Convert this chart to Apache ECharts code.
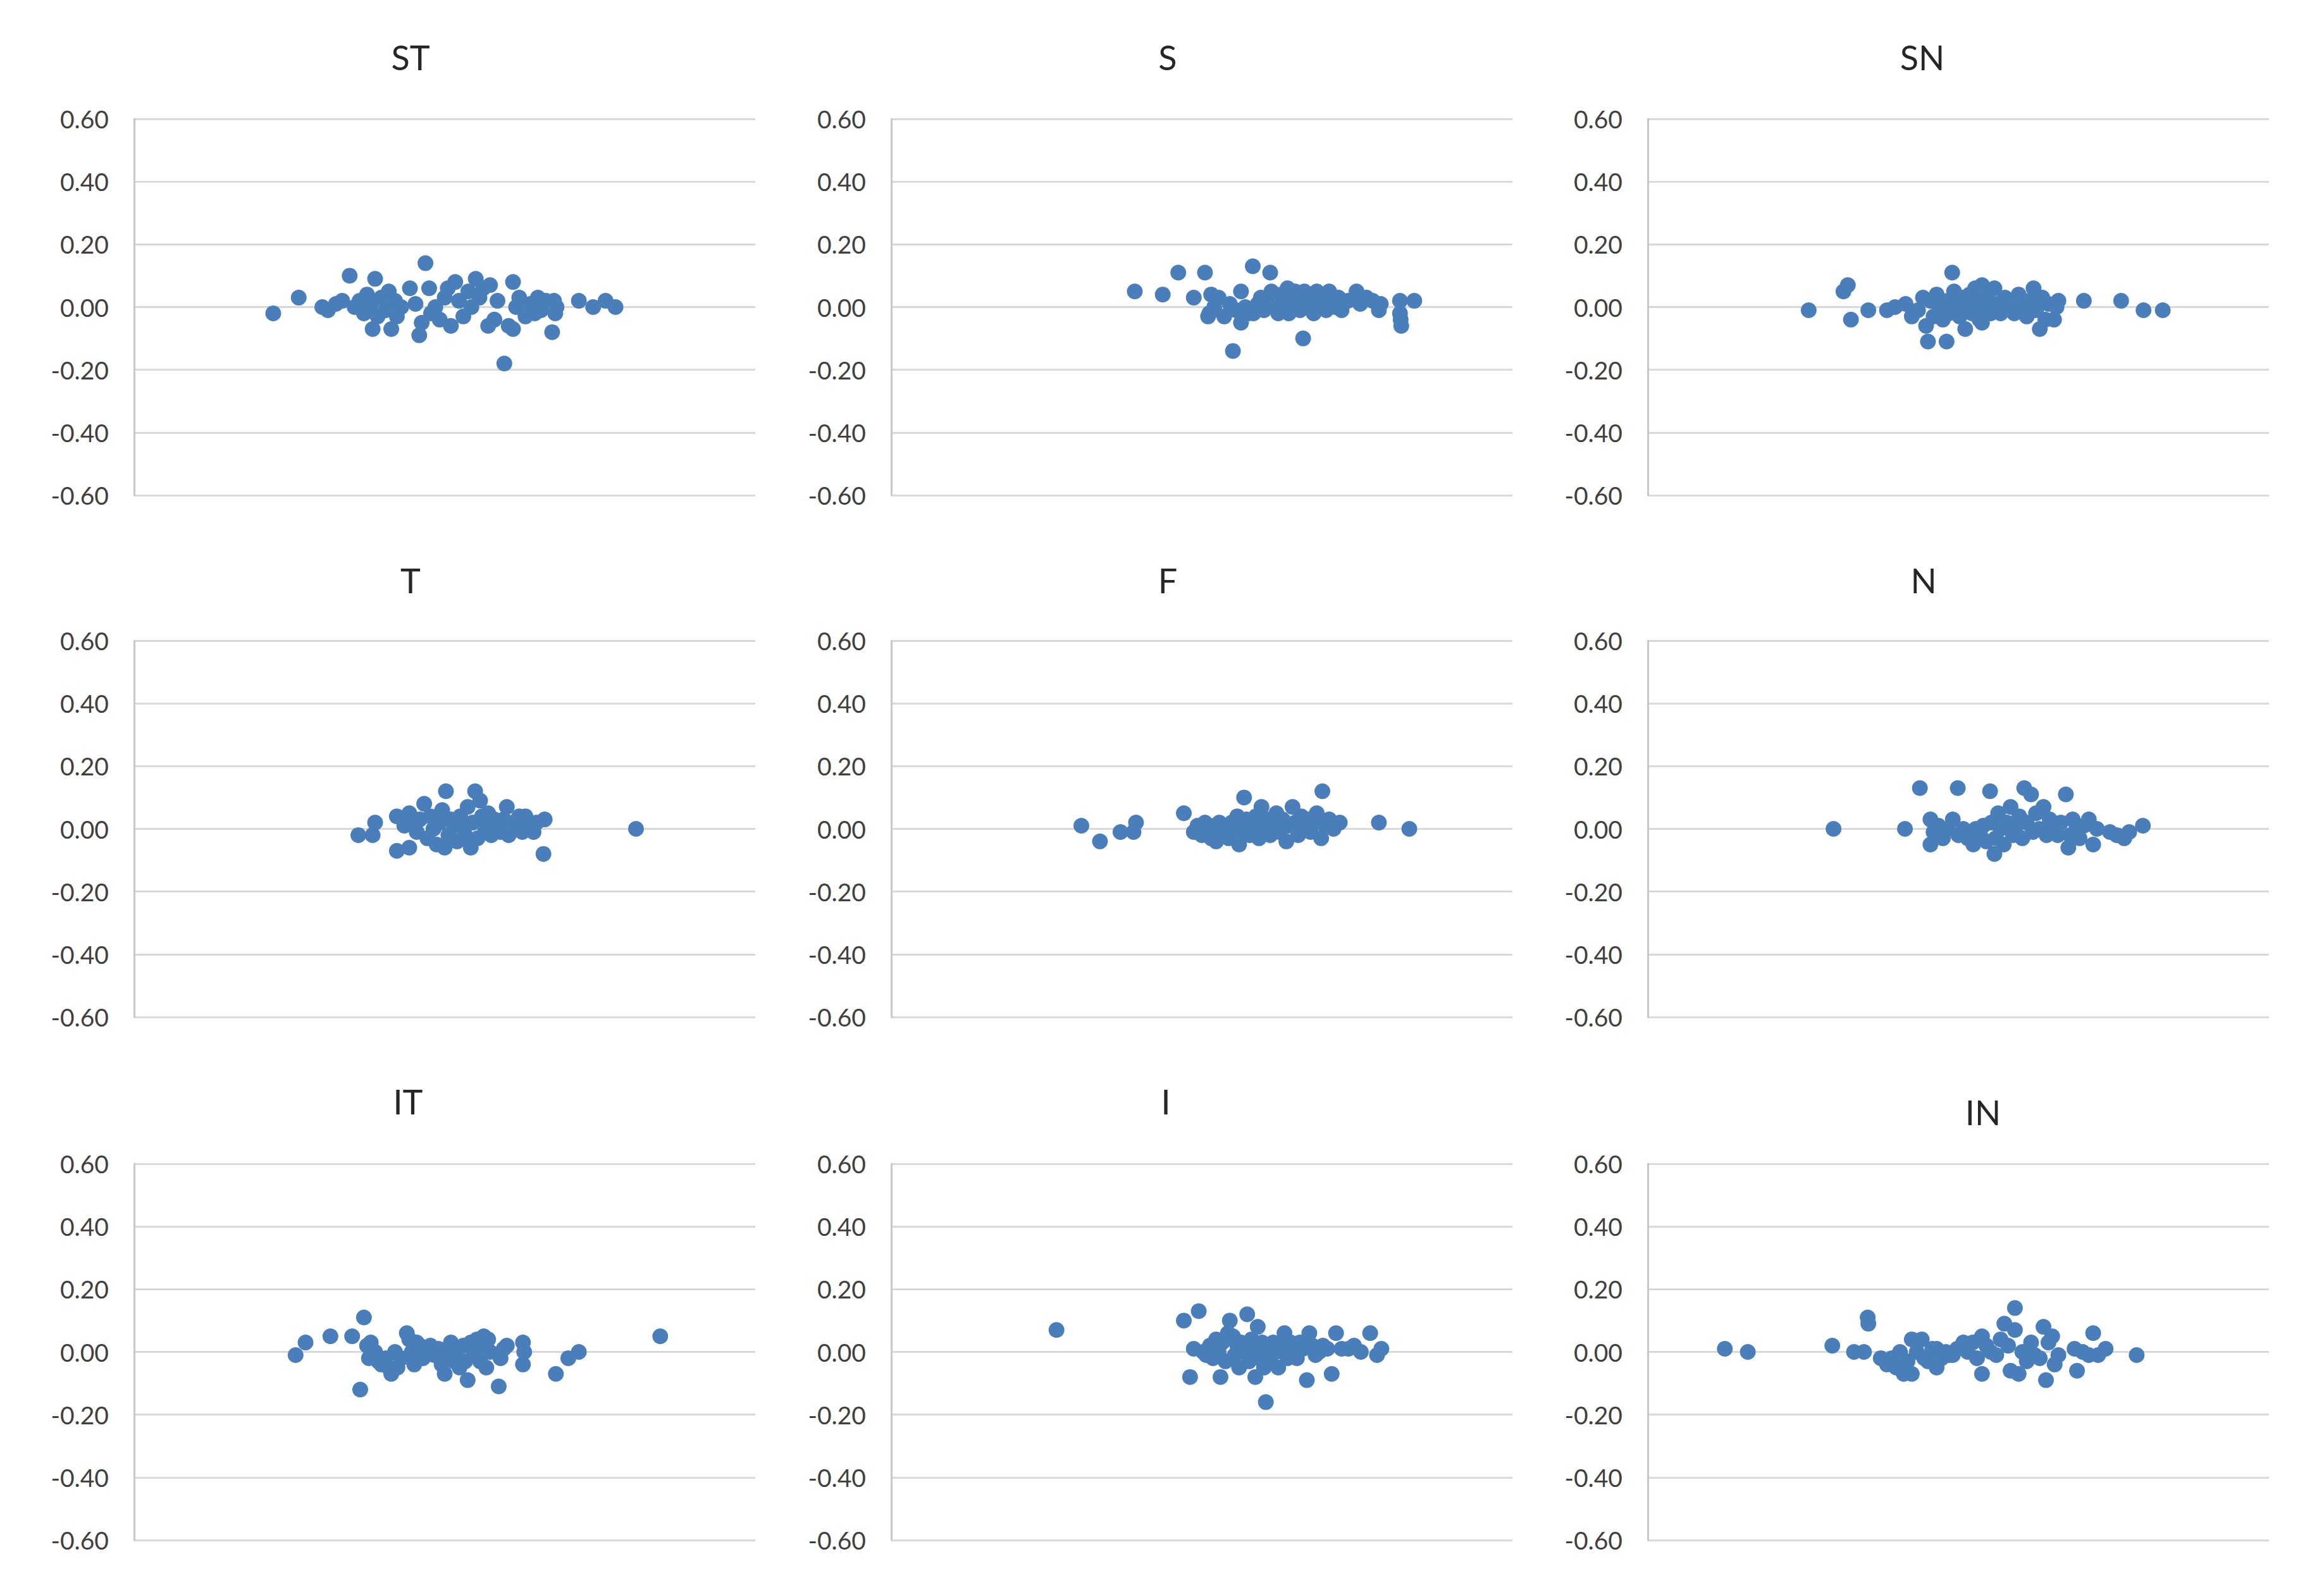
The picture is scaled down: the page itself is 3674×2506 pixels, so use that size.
<!DOCTYPE html>
<html><head><meta charset="utf-8">
<script src="https://cdn.jsdelivr.net/npm/echarts@6/dist/echarts.min.js"></script>
<style>html,body{margin:0;padding:0;background:#fff}#c{width:3674px;height:2506px}</style>
</head><body><div id="c"></div><script>
// Panel titles
const panelTitles = ['ST','S','SN','T','F','N','IT','I','IN'];
// Y axis ticks
const yMin = -0.6, yMax = 0.6, yStep = 0.2;

// Point data [x (relative position 0-100), y]
const ST = [[22.4,-0.02],[26.5,0.03],[30.3,0.00],[31.2,-0.01],[32.5,0.01],[33.5,0.02],[34.7,0.10],[35.5,0.00],[36.3,0.02],[37.0,-0.02],[37.5,0.04],[38.2,0.01],[38.8,0.09],[38.4,-0.07],[39.2,-0.03],[39.8,0.03],[40.5,-0.01],[41.0,0.05],[41.4,-0.07],[42.0,0.02],[42.3,-0.03],[43.0,0.00],[44.4,0.06],[45.3,0.01],[45.9,-0.09],[46.3,-0.05],[46.9,0.14],[47.5,0.06],[47.8,-0.02],[48.5,0.00],[49.2,-0.04],[50.0,0.03],[50.5,0.06],[51.0,-0.06],[51.7,0.08],[52.3,0.02],[53.0,-0.03],[53.8,0.05],[54.3,0.00],[55.0,0.09],[55.6,0.03],[56.2,0.06],[57.0,-0.06],[57.3,0.07],[58.0,-0.04],[58.5,0.02],[59.6,-0.18],[60.3,-0.06],[61.0,0.08],[61.0,-0.07],[61.5,0.00],[62.0,0.03],[63.0,-0.03],[63.8,0.01],[64.5,-0.02],[65.0,0.03],[65.5,-0.01],[66.3,0.02],[67.3,-0.08],[67.6,0.02],[67.8,-0.02],[68.0,0.00],[71.6,0.02],[73.9,0.00],[75.9,0.02],[77.5,0.00]];
const S = [[39.2,0.05],[43.7,0.04],[46.2,0.11],[50.5,0.11],[48.7,0.03],[51.0,-0.03],[51.2,-0.02],[51.5,0.04],[52.0,0.00],[52.7,0.03],[53.6,-0.03],[54.5,0.01],[55.0,-0.14],[55.5,-0.01],[56.3,0.05],[56.3,-0.05],[57.0,0.00],[57.5,-0.02],[58.2,0.13],[58.3,-0.02],[59.0,0.01],[59.5,0.03],[60.0,-0.01],[60.5,0.02],[61.0,0.11],[61.2,0.05],[61.8,0.00],[62.3,-0.02],[62.8,0.04],[63.2,0.02],[63.8,0.06],[64.0,-0.02],[64.5,0.01],[65.0,0.05],[65.3,0.03],[65.8,-0.01],[66.3,-0.10],[66.5,0.05],[67.0,0.00],[67.5,0.03],[68.0,-0.02],[68.5,0.05],[69.0,0.02],[69.5,0.04],[70.0,-0.01],[70.5,0.05],[71.0,0.02],[71.5,0.00],[72.0,0.03],[72.5,-0.01],[73.5,0.02],[74.9,0.05],[75.5,0.01],[76.5,0.03],[77.5,0.02],[78.5,-0.01],[78.8,0.01],[81.9,0.02],[81.9,-0.02],[82.0,-0.04],[82.1,-0.06],[84.2,0.02]];
const SN = [[25.9,-0.01],[31.5,0.05],[32.2,0.07],[32.7,-0.04],[35.5,-0.01],[38.5,-0.01],[39.8,0.00],[41.5,0.01],[42.5,-0.03],[43.5,-0.01],[44.3,0.03],[44.8,-0.06],[45.1,-0.11],[45.5,0.02],[46.0,-0.03],[46.5,0.04],[47.0,0.00],[47.5,-0.04],[48.1,-0.11],[48.3,0.02],[48.5,-0.02],[49.0,0.11],[49.3,0.05],[49.8,0.01],[50.2,-0.03],[50.6,0.03],[51.1,-0.07],[51.5,0.00],[51.8,0.04],[52.2,-0.02],[52.7,0.06],[53.0,0.02],[53.4,-0.04],[53.8,0.07],[53.8,-0.05],[54.3,0.00],[54.7,0.03],[55.2,-0.02],[55.8,0.06],[56.2,0.01],[56.8,-0.02],[57.5,0.03],[58.3,0.00],[59.0,-0.02],[59.7,0.04],[60.5,0.01],[61.0,-0.03],[61.5,0.02],[62.1,0.06],[62.5,-0.01],[63.1,-0.07],[63.5,0.03],[64.0,-0.04],[64.5,0.01],[65.4,-0.04],[65.8,0.00],[66.1,0.02],[70.2,0.02],[76.2,0.02],[79.8,-0.01],[82.9,-0.01]];
const T = [[36.1,-0.02],[38.4,-0.02],[38.8,0.02],[42.3,0.04],[42.3,-0.07],[43.5,0.01],[44.3,-0.06],[44.3,0.05],[45.0,0.02],[45.5,-0.01],[46.0,0.03],[46.7,0.08],[47.2,-0.03],[47.7,0.04],[48.2,0.00],[48.7,-0.05],[49.2,0.02],[49.6,0.06],[50.0,-0.06],[50.2,0.12],[50.6,-0.02],[51.0,0.03],[51.5,0.01],[52.0,-0.04],[52.5,0.04],[53.0,0.00],[53.3,-0.02],[53.7,0.07],[54.2,-0.06],[54.5,0.02],[54.9,0.12],[55.3,-0.03],[55.7,0.09],[56.0,0.04],[56.5,0.00],[57.0,0.05],[57.5,-0.02],[58.0,0.03],[58.5,0.01],[59.0,-0.01],[59.5,0.03],[60.0,0.07],[60.3,-0.02],[61.0,0.02],[61.5,0.00],[62.0,0.04],[62.5,-0.01],[63.0,0.04],[63.5,0.01],[64.3,-0.01],[64.8,0.02],[66.1,0.03],[65.9,-0.08],[80.8,0.00]];
const F = [[30.6,0.01],[33.6,-0.04],[36.9,-0.01],[39.0,-0.01],[39.4,0.02],[47.1,0.05],[48.7,-0.01],[49.3,0.01],[50.0,-0.02],[50.5,0.02],[51.0,0.00],[51.5,-0.03],[52.0,0.01],[52.3,-0.04],[52.8,0.02],[53.3,-0.01],[53.8,0.01],[54.3,-0.03],[54.8,0.02],[55.3,0.00],[55.7,0.04],[56.0,-0.05],[56.5,-0.01],[56.8,0.10],[57.2,0.03],[57.7,-0.02],[58.2,0.01],[58.7,0.04],[59.2,-0.03],[59.6,0.07],[60.0,0.00],[60.5,0.03],[61.0,-0.02],[61.5,0.02],[62.0,0.05],[62.5,-0.01],[63.0,0.03],[63.6,-0.04],[64.0,0.01],[64.6,0.07],[65.0,0.02],[65.5,-0.02],[66.0,0.04],[66.5,0.00],[67.0,0.03],[67.5,-0.01],[68.0,0.02],[68.5,0.05],[69.2,-0.03],[69.4,0.12],[69.8,0.01],[70.5,0.03],[71.2,0.00],[72.2,0.02],[78.5,0.02],[83.4,0.00]];
const N = [[29.9,0.00],[41.4,0.00],[43.8,0.13],[45.5,0.03],[45.5,-0.05],[46.0,-0.01],[46.8,0.01],[47.5,-0.03],[48.3,0.00],[49.1,0.03],[49.9,0.13],[50.0,-0.02],[50.8,0.00],[51.5,-0.03],[52.4,-0.05],[52.8,0.00],[53.5,-0.02],[54.0,0.01],[54.5,-0.04],[55.1,0.12],[55.3,0.02],[55.8,-0.08],[56.0,-0.03],[56.4,0.05],[56.8,0.00],[57.3,-0.05],[57.8,0.02],[58.4,0.07],[58.8,-0.02],[59.3,0.01],[59.8,0.04],[60.3,-0.03],[60.6,0.13],[61.0,0.02],[61.7,0.11],[62.0,-0.01],[62.5,0.05],[63.0,0.00],[63.7,0.07],[64.2,-0.02],[64.7,0.03],[65.3,0.01],[66.0,-0.02],[66.5,0.02],[67.3,0.11],[67.7,-0.06],[68.0,-0.02],[68.4,0.03],[69.0,0.00],[69.5,-0.03],[70.2,0.01],[71.0,0.03],[71.7,-0.05],[72.3,0.00],[74.4,-0.01],[75.5,-0.02],[76.7,-0.03],[77.5,-0.01],[79.7,0.01]];
const IT = [[26.0,-0.01],[27.6,0.03],[31.6,0.05],[35.1,0.05],[36.4,-0.12],[37.0,0.11],[37.5,0.02],[37.8,-0.02],[38.1,0.03],[38.8,0.00],[39.3,-0.03],[39.8,-0.04],[40.5,-0.02],[41.0,-0.05],[41.4,-0.07],[42.0,0.00],[42.4,-0.05],[43.0,-0.02],[43.9,0.06],[44.3,0.04],[44.7,0.00],[45.1,-0.04],[45.5,0.03],[46.0,0.02],[46.5,-0.02],[47.0,0.01],[47.7,0.02],[48.3,-0.01],[49.0,0.01],[49.5,-0.04],[50.0,-0.07],[50.5,0.00],[51.0,0.03],[51.5,-0.03],[52.0,0.01],[52.4,-0.05],[53.0,0.02],[53.3,-0.03],[53.7,-0.09],[54.2,0.03],[54.7,-0.01],[55.2,0.04],[55.7,-0.03],[56.0,0.02],[56.3,0.05],[56.7,-0.05],[57.0,0.04],[57.3,0.00],[58.7,-0.11],[59.0,-0.02],[59.5,0.01],[60.0,0.02],[62.6,0.03],[62.6,-0.04],[62.8,0.00],[67.9,-0.07],[69.9,-0.02],[71.6,0.00],[84.7,0.05]];
const I = [[26.6,0.07],[47.1,0.10],[48.1,-0.08],[48.7,0.01],[49.5,0.13],[50.2,0.00],[50.7,-0.01],[51.3,0.02],[51.8,-0.02],[52.3,0.04],[52.7,0.00],[53.0,-0.08],[53.3,0.03],[53.8,-0.03],[54.2,0.06],[54.5,0.10],[55.0,0.05],[55.3,-0.01],[55.7,0.02],[56.0,-0.05],[56.3,0.03],[56.8,0.00],[57.3,0.12],[57.6,-0.03],[58.0,0.04],[58.3,0.01],[58.6,-0.08],[59.0,0.08],[59.3,-0.02],[59.7,0.03],[60.0,-0.05],[60.3,-0.16],[60.6,0.01],[61.0,-0.03],[61.5,0.03],[62.0,0.00],[62.3,-0.05],[62.8,0.02],[63.3,0.06],[63.8,-0.02],[64.3,0.03],[64.8,0.00],[65.3,-0.02],[65.8,0.03],[66.3,0.01],[66.9,-0.09],[67.3,0.06],[67.8,0.02],[68.3,-0.01],[68.9,0.00],[69.5,0.02],[70.2,0.01],[70.9,-0.07],[71.6,0.06],[72.5,0.01],[73.6,0.01],[74.5,0.02],[75.6,0.00],[77.1,0.06],[78.2,-0.01],[78.9,0.01]];
const IN = [[12.4,0.01],[16.1,0.00],[29.7,0.02],[33.2,0.00],[34.8,0.00],[35.4,0.11],[35.5,0.09],[37.5,-0.02],[38.5,-0.04],[39.3,-0.02],[40.0,-0.05],[40.6,0.00],[41.2,-0.07],[41.8,-0.03],[42.5,0.04],[42.5,-0.07],[43.3,0.00],[44.1,0.04],[44.5,-0.02],[45.1,-0.03],[45.8,0.01],[46.5,0.01],[46.5,-0.05],[47.3,-0.02],[48.0,0.00],[48.5,-0.01],[49.1,-0.01],[49.8,0.01],[50.8,0.03],[51.5,0.00],[52.3,0.03],[53.0,-0.02],[53.8,0.05],[53.8,-0.07],[54.5,0.02],[55.2,0.00],[56.1,-0.01],[56.8,0.04],[57.4,0.09],[58.0,0.02],[58.4,-0.06],[59.1,0.14],[59.1,0.07],[59.7,-0.07],[60.3,0.00],[61.0,-0.03],[61.7,0.03],[62.3,-0.01],[63.1,-0.02],[63.7,0.08],[64.1,-0.09],[64.5,0.03],[65.1,0.05],[65.5,-0.04],[66.1,-0.01],[68.7,0.01],[69.1,-0.06],[70.0,0.00],[71.0,-0.01],[71.7,0.06],[72.5,-0.01],[73.7,0.01],[78.7,-0.01]];

const panelData = [ST, S, SN, T, F, N, IT, I, IN];

// Layout (pixels)
const colLeft = [212, 1409, 2605];
const gridWidth = 982;
const rowTop = [188, 1013, 1840];
const gridHeight = 595;
const titlePos = [[649,90],[1846,90],[3039,90],[649,917],[1846,917],[3041,917],[645,1741],[1843,1741],[3135,1758]];

const FONT = 'Lato, "Open Sans", sans-serif';
const grids = [], xAxes = [], yAxes = [], series = [], graphics = [];
for (let i = 0; i < 9; i++) {
  const r = Math.floor(i / 3), c = i % 3;
  grids.push({left: colLeft[c], top: rowTop[r], width: gridWidth, height: gridHeight, containLabel: false});
  xAxes.push({type: 'value', gridIndex: i, min: 0, max: 100, show: false});
  yAxes.push({
    type: 'value', gridIndex: i, min: yMin, max: yMax, interval: yStep,
    axisLine: {show: true, lineStyle: {color: '#c8c8c8', width: 3}},
    axisTick: {show: false},
    axisLabel: {
      color: '#404040', fontSize: 39, fontFamily: FONT, margin: 40,
      formatter: v => (Math.abs(v) < 1e-9 ? 0 : v).toFixed(2)
    },
    splitLine: {show: true, lineStyle: {color: '#d9d9d9', width: 3}}
  });
  series.push({
    type: 'scatter', xAxisIndex: i, yAxisIndex: i,
    data: panelData[i], symbolSize: 25,
    itemStyle: {color: '#4a7ebb', opacity: 1}
  });
  graphics.push({
    type: 'text', x: titlePos[i][0], y: titlePos[i][1],
    style: {text: panelTitles[i], fontSize: 54, fontFamily: FONT, fill: '#262626',
            textAlign: 'center', textVerticalAlign: 'middle', align: 'center', verticalAlign: 'middle'}
  });
}

const chart = echarts.init(document.getElementById('c'), null, {renderer: 'svg'});
chart.setOption({
  animation: false,
  backgroundColor: '#ffffff',
  grid: grids, xAxis: xAxes, yAxis: yAxes, series: series,
  graphic: graphics
});
</script></body></html>
